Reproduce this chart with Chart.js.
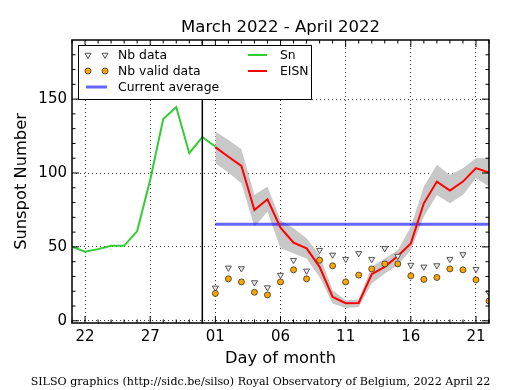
<!DOCTYPE html>
<html>
<head>
<meta charset="utf-8">
<script src="https://cdn.jsdelivr.net/npm/chart.js"></script>
<style>
  body { margin: 0; background: #fff; }
  canvas { display: block; }
</style>
</head>
<body>
<canvas id="myChart" width="515" height="390"></canvas>
<script>
// one label per day, March 21 to April 22
const dayLabels = ['21','22','23','24','25','26','27','28','29','30','31',
  '01','02','03','04','05','06','07','08','09','10','11','12','13','14','15','16','17','18','19','20','21','22'];

// daily Sn, March 21 - April 1
const snValues = [50.1, 46.7, 48.5, 50.7, 50.7, 60.7, 95.3, 136.5, 144.6, 113.4, 124.3, 117.9];

// EISN and its error band, April 1 - April 22
const eisnValues = [117.5, 111, 104.8, 75, 82.2, 63, 52.8, 49, 36.5, 16.1, 11.9, 12.1,
  31.5, 36.5, 43.8, 52.4, 79.5, 94.2, 88.1, 94.2, 103.3, 100.3];
const eisnUpper = [128.1, 122.3, 116.1, 85.1, 90.8, 68.2, 62.6, 55.8, 44.4, 20.7, 13.9, 14.4,
  36.5, 42.2, 47.8, 63.6, 90.8, 105.5, 98.7, 103.3, 110, 110];
const eisnLower = [106.6, 100.3, 93.1, 63.6, 73.8, 49, 45.6, 42.2, 29.7, 11.7, 8.7, 9.4,
  25.2, 32, 37.7, 47.8, 70.4, 85.1, 79.5, 85.1, 96.5, 90.8];

// number of stations
const nbData = [22.3, 35.8, 35.4, 25.9, 22.5, 30.9, 41, 33.8, 47.8, 44.6, 41.7, 45.6,
  41.7, 49, 43.8, 37.7, 36.5, 37.4, 41.7, 44.9, 34.9, 18.9];
const nbValid = [18.5, 28.4, 26.3, 19.3, 17.5, 26.3, 34.5, 28.4, 41, 37.2, 26.3, 30.9,
  35.1, 38.5, 38.5, 30.4, 28, 29.3, 35.1, 34.5, 27.7, 13.4];

const currentAverage = 65.3;
const yTickValues = [0, 10, 20, 30, 40, 50, 60, 70, 80, 90, 100, 110, 120, 130, 140, 150, 160, 170, 180];

const titleText = 'March 2022 - April 2022';
const xTitle = 'Day of month';
const yTitle = 'Sunspot Number';
const footerText = 'SILSO graphics (http://sidc.be/silso) Royal Observatory of Belgium, 2022 April 22';

const aprilStart = dayLabels.indexOf('01');
const toPoints = (values, start) => values.map((v, i) => ({ x: start + i, y: v }));

const FONT = "'DejaVu Sans', sans-serif";
const GREEN = 'rgb(50,205,50)';
const RED = 'rgb(255,0,0)';
const BLUE = 'rgba(0,0,255,0.6)';
const ORANGE = 'rgb(255,165,0)';

function triangleDown(ctx, x, y, r) {
  ctx.beginPath();
  ctx.moveTo(x, y + r);
  ctx.lineTo(x - r * 0.866, y - r / 2);
  ctx.lineTo(x + r * 0.866, y - r / 2);
  ctx.closePath();
  ctx.fillStyle = '#eeeeee';
  ctx.fill();
  ctx.strokeStyle = '#555';
  ctx.lineWidth = 1;
  ctx.stroke();
}

function dot(ctx, x, y, r) {
  ctx.beginPath();
  ctx.arc(x, y, r, 0, Math.PI * 2);
  ctx.fillStyle = ORANGE;
  ctx.fill();
  ctx.strokeStyle = '#333';
  ctx.lineWidth = 0.8;
  ctx.stroke();
}

function legendLine(ctx, x1, x2, y, color, width) {
  ctx.beginPath();
  ctx.moveTo(x1, y);
  ctx.lineTo(x2, y);
  ctx.strokeStyle = color;
  ctx.lineWidth = width;
  ctx.stroke();
}

const decorations = {
  id: 'decorations',
  afterDatasetsDraw(chart) {
    const { ctx, chartArea: a, scales: { x, y } } = chart;
    ctx.save();

    // end of March marker
    const xm = x.getPixelForValue(aprilStart - 1);
    ctx.beginPath();
    ctx.moveTo(xm, a.top);
    ctx.lineTo(xm, a.bottom);
    ctx.strokeStyle = '#000';
    ctx.lineWidth = 1.5;
    ctx.stroke();

    // inward ticks on all four sides
    ctx.lineWidth = 1;
    ctx.beginPath();
    for (let i = 0; i < dayLabels.length; i++) {
      const px = x.getPixelForValue(i);
      const len = i % 5 === 1 ? 7 : 3.5;
      ctx.moveTo(px, a.bottom); ctx.lineTo(px, a.bottom - len);
      ctx.moveTo(px, a.top); ctx.lineTo(px, a.top + len);
    }
    yTickValues.forEach(v => {
      const py = y.getPixelForValue(v);
      const len = v % 50 === 0 ? 7 : 3.5;
      ctx.moveTo(a.left, py); ctx.lineTo(a.left + len, py);
      ctx.moveTo(a.right, py); ctx.lineTo(a.right - len, py);
    });
    ctx.stroke();

    // frame
    ctx.lineWidth = 1.5;
    ctx.strokeRect(a.left, a.top, a.right - a.left, a.bottom - a.top);

    // legend
    ctx.fillStyle = '#fff';
    ctx.fillRect(78.5, 45.5, 233, 54);
    ctx.lineWidth = 1;
    ctx.strokeStyle = '#000';
    ctx.strokeRect(78.5, 45.5, 233, 54);

    triangleDown(ctx, 88, 55, 3.5);
    triangleDown(ctx, 105, 55, 3.5);
    dot(ctx, 88, 71, 3);
    dot(ctx, 105, 71, 3);
    legendLine(ctx, 86, 107, 87, BLUE, 3);
    legendLine(ctx, 248, 267, 55, GREEN, 2);
    legendLine(ctx, 248, 267, 71, RED, 2);

    ctx.fillStyle = '#000';
    ctx.font = '12.4px ' + FONT;
    ctx.textBaseline = 'middle';
    ctx.textAlign = 'left';
    ctx.fillText('Nb data', 118, 55.5);
    ctx.fillText('Nb valid data', 118, 71.5);
    ctx.fillText('Current average', 118, 87.5);
    ctx.fillText('Sn', 280, 55.5);
    ctx.fillText('EISN', 280, 71.5);

    // titles
    const cx = (a.left + a.right) / 2;
    ctx.textBaseline = 'alphabetic';
    ctx.textAlign = 'center';
    ctx.font = '16.5px ' + FONT;
    ctx.fillText(titleText, cx, 32);
    ctx.font = '16.3px ' + FONT;
    ctx.fillText(xTitle, cx, 363);
    ctx.save();
    ctx.translate(25.5, (a.top + a.bottom) / 2);
    ctx.rotate(-Math.PI / 2);
    ctx.fillText(yTitle, 0, 0);
    ctx.restore();

    ctx.font = "11px 'DejaVu Serif', serif";
    const w = ctx.measureText(footerText).width;
    ctx.font = (11 * 460 / w).toFixed(2) + "px 'DejaVu Serif', serif";
    ctx.fillText(footerText, 260.5, 385);

    ctx.restore();
  }
};

new Chart(document.getElementById('myChart'), {
  type: 'line',
  data: {
    datasets: [
      {
        label: 'Nb valid data',
        data: toPoints(nbValid, aprilStart),
        showLine: false,
        pointStyle: 'circle',
        pointRadius: 3,
        pointBackgroundColor: ORANGE,
        pointBorderColor: '#333',
        pointBorderWidth: 0.8,
        order: 1
      },
      {
        label: 'Nb data',
        data: toPoints(nbData, aprilStart),
        showLine: false,
        pointStyle: 'triangle',
        rotation: 180,
        pointRadius: 3.5,
        pointBackgroundColor: '#eeeeee',
        pointBorderColor: '#555',
        pointBorderWidth: 1,
        order: 2
      },
      {
        label: 'EISN',
        data: toPoints(eisnValues, aprilStart),
        borderColor: RED,
        borderWidth: 2,
        pointRadius: 0,
        order: 3
      },
      {
        label: 'Sn',
        data: toPoints(snValues, 0),
        borderColor: GREEN,
        borderWidth: 2,
        pointRadius: 0,
        order: 4
      },
      {
        label: 'Current average',
        data: [{ x: aprilStart, y: currentAverage }, { x: dayLabels.length - 1, y: currentAverage }],
        borderColor: BLUE,
        borderWidth: 3,
        pointRadius: 0,
        order: 5
      },
      {
        label: 'upper',
        data: toPoints(eisnUpper, aprilStart),
        borderWidth: 0,
        borderColor: 'rgba(0,0,0,0)',
        backgroundColor: 'rgb(200,200,200)',
        pointRadius: 0,
        fill: '+1',
        order: 6
      },
      {
        label: 'lower',
        data: toPoints(eisnLower, aprilStart),
        borderWidth: 0,
        borderColor: 'rgba(0,0,0,0)',
        pointRadius: 0,
        fill: false,
        order: 7
      }
    ]
  },
  options: {
    responsive: false,
    animation: false,
    devicePixelRatio: 1,
    layout: { padding: { left: 0, right: 26, top: 40, bottom: 0 } },
    plugins: {
      legend: { display: false },
      tooltip: { enabled: false }
    },
    scales: {
      x: {
        type: 'linear',
        min: 0,
        max: dayLabels.length - 1,
        afterFit: scale => { scale.height = 67; },
        border: { display: false, dash: [1, 3] },
        grid: {
          drawTicks: false,
          lineWidth: 0.8,
          color: c => (c.tick && c.tick.value % 5 === 1) ? '#000' : 'rgba(0,0,0,0)'
        },
        ticks: {
          stepSize: 1,
          autoSkip: false,
          maxRotation: 0,
          padding: 5,
          color: '#000',
          font: { family: FONT, size: 15 },
          callback: v => (v % 5 === 1 ? dayLabels[v] : '')
        }
      },
      y: {
        min: -1.5,
        max: 190,
        afterFit: scale => { scale.width = 72; },
        afterBuildTicks: scale => { scale.ticks = yTickValues.map(v => ({ value: v })); },
        border: { display: false, dash: [1, 3] },
        grid: {
          drawTicks: false,
          lineWidth: 0.8,
          color: c => (c.tick && c.tick.value % 50 === 0) ? '#000' : 'rgba(0,0,0,0)'
        },
        ticks: {
          autoSkip: false,
          padding: 5,
          color: '#000',
          font: { family: FONT, size: 15 },
          callback: v => (v % 50 === 0 ? String(v) : '')
        }
      }
    }
  },
  plugins: [decorations]
});
</script>
</body>
</html>
